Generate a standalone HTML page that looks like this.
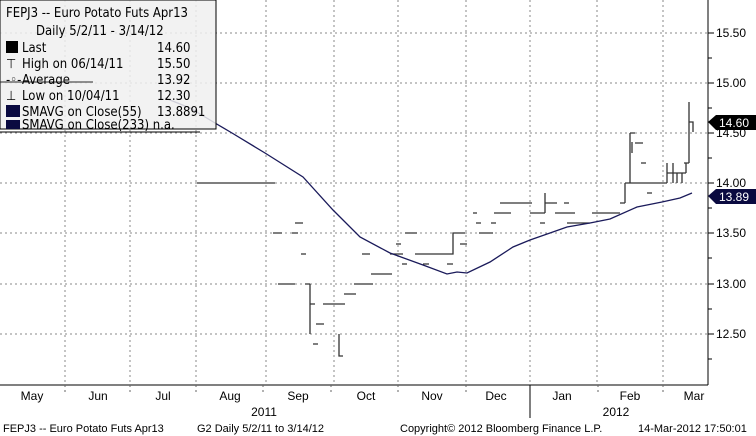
<!DOCTYPE html><html><head><style>body{margin:0;background:#fff}svg{display:block}</style></head><body>
<svg width="756" height="436" xmlns="http://www.w3.org/2000/svg" font-family="Liberation Sans, sans-serif">
<rect width="756" height="436" fill="#fff"/>
<g stroke="#888" stroke-dasharray="2,3" stroke-width="1">
<line x1="0" y1="33" x2="708" y2="33"/><line x1="0" y1="83" x2="708" y2="83"/><line x1="0" y1="133" x2="708" y2="133"/><line x1="0" y1="183" x2="708" y2="183"/><line x1="0" y1="233" x2="708" y2="233"/><line x1="0" y1="284" x2="708" y2="284"/><line x1="0" y1="334" x2="708" y2="334"/>
<line x1="65" y1="0" x2="65" y2="385"/><line x1="130" y1="0" x2="130" y2="385"/><line x1="196" y1="0" x2="196" y2="385"/><line x1="266" y1="0" x2="266" y2="385"/><line x1="334" y1="0" x2="334" y2="385"/><line x1="398" y1="0" x2="398" y2="385"/><line x1="466" y1="0" x2="466" y2="385"/><line x1="530" y1="0" x2="530" y2="385"/><line x1="597" y1="0" x2="597" y2="385"/><line x1="663" y1="0" x2="663" y2="385"/>
</g>
<line x1="708" y1="0" x2="708" y2="385" stroke="#000"/>
<line x1="0" y1="385" x2="708" y2="385" stroke="#000"/>
<g stroke="#000">
<line x1="708" y1="33" x2="714" y2="33"/><line x1="708" y1="83" x2="714" y2="83"/><line x1="708" y1="133" x2="714" y2="133"/><line x1="708" y1="183" x2="714" y2="183"/><line x1="708" y1="233" x2="714" y2="233"/><line x1="708" y1="284" x2="714" y2="284"/><line x1="708" y1="334" x2="714" y2="334"/>
<line x1="708" y1="58" x2="712" y2="58"/><line x1="708" y1="108" x2="712" y2="108"/><line x1="708" y1="158" x2="712" y2="158"/><line x1="708" y1="208" x2="712" y2="208"/><line x1="708" y1="258" x2="712" y2="258"/><line x1="708" y1="309" x2="712" y2="309"/><line x1="708" y1="359" x2="712" y2="359"/>
</g>
<g font-size="12" fill="#000">
<text x="716" y="37">15.50</text><text x="716" y="87">15.00</text><text x="716" y="137">14.50</text><text x="716" y="187">14.00</text><text x="716" y="237">13.50</text><text x="716" y="288">13.00</text><text x="716" y="338">12.50</text>
</g>
<polygon points="708,122 716,115 756,115 756,130 716,130" fill="#000"/><text x="719" y="127" font-size="12" fill="#fff">14.60</text>
<polygon points="708,196 716,189 756,189 756,204 716,204" fill="#0a0a40"/><text x="719" y="201" font-size="12" fill="#fff">13.89</text>
<g stroke="#333" stroke-width="1.3" fill="none">
<path d="M0 82H93M0 132H200M197 183H275M295 223H303M273 233H282M292 233H298M301 254H306M278 284H295M305 284H310M310 284V334M310 304H315M323 304H345M316 324H324M313 344H318M339 334V356H343M344 294H356M354 284H373M371 274H392M362 254H370M390 254H403M396 244H401M405 233H417M402 264H407M415 254H453V233H465M423 264H429M447 264H453M460 244H467M479 233H493M473 213H477M476 223H481M491 223H496M494 213H511M500 203H532M530 213H545M545 193V213M545 203H557M564 203H569M540 223H545M555 213H575M567 223H590M592 213H620M620 203H625M625 183V203M625 183H667M630 133V183M630 133H635M632 142V153M635 143H643M641 163H646M647 193H652M667 173H686M667 163V183M673 163V183M677 173V183M682 173V183M686 163V173M684 163H689M689 102V163M689 122H693V132"/>
</g>
<polyline fill="none" stroke="#1a1a5a" stroke-width="1.3" points="165,98 190,108 215,123 232,133 265,153 303,177 333,210 360,237 390,253 423,265 447,274 457,272 467,273 490,262 513,247 530,240 550,233 567,227 590,223 610,219 637,207 662,202 680,198 692,193"/>
<rect x="0" y="0" width="216" height="129" fill="#f0f0f0" fill-opacity="0.85" stroke="#000"/>
<line x1="0" y1="82" x2="93" y2="82" stroke="#333"/>
<g font-size="13" fill="#000" font-family="DejaVu Sans Condensed, DejaVu Sans, sans-serif">
<text x="6" y="17">FEPJ3 -- Euro Potato Futs  Apr13</text>
<text x="36" y="35">Daily 5/2/11 - 3/14/12</text>
<rect x="6" y="41" width="12" height="12"/><text x="22" y="52">Last</text><text x="157" y="52">14.60</text>
<text x="6" y="68">⊤</text><text x="22" y="68">High on 06/14/11</text><text x="157" y="68">15.50</text>
<text x="6" y="84">-◦-</text><text x="22" y="84">Average</text><text x="157" y="84">13.92</text>
<text x="6" y="100">⊥</text><text x="22" y="100">Low on 10/04/11</text><text x="157" y="100">12.30</text>
<rect x="6" y="105" width="14" height="12" fill="#0a0a40"/><text x="22" y="116">SMAVG on Close(55)</text><text x="157" y="116">13.8891</text>
<rect x="6" y="120" width="14" height="9" fill="#0a0a40"/><text x="22" y="129">SMAVG on Close(233)  n.a.</text>
</g>
<g stroke="#666" stroke-dasharray="2,3"><line x1="65" y1="385" x2="65" y2="395"/><line x1="130" y1="385" x2="130" y2="395"/><line x1="196" y1="385" x2="196" y2="395"/><line x1="263" y1="385" x2="263" y2="395"/><line x1="331" y1="385" x2="331" y2="395"/><line x1="398" y1="385" x2="398" y2="395"/><line x1="466" y1="385" x2="466" y2="395"/><line x1="598" y1="385" x2="598" y2="395"/><line x1="663" y1="385" x2="663" y2="395"/></g>
<line x1="530" y1="385" x2="530" y2="418" stroke="#000"/>
<g font-size="12" fill="#000" text-anchor="middle">
<text x="32" y="400">May</text><text x="98" y="400">Jun</text><text x="163" y="400">Jul</text><text x="230" y="400">Aug</text><text x="298" y="400">Sep</text><text x="366" y="400">Oct</text><text x="432" y="400">Nov</text><text x="496" y="400">Dec</text><text x="562" y="400">Jan</text><text x="630" y="400">Feb</text><text x="694" y="400">Mar</text>
<text x="264" y="416">2011</text><text x="616" y="416">2012</text>
</g>
<g font-size="11" fill="#000">
<text x="3" y="432">FEPJ3 -- Euro Potato Futs  Apr13</text><text x="197" y="432">G2  Daily  5/2/11 to 3/14/12</text><text x="400" y="432">Copyright© 2012 Bloomberg Finance L.P.</text><text x="638" y="432">14-Mar-2012 17:50:01</text>
</g>
</svg></body></html>
